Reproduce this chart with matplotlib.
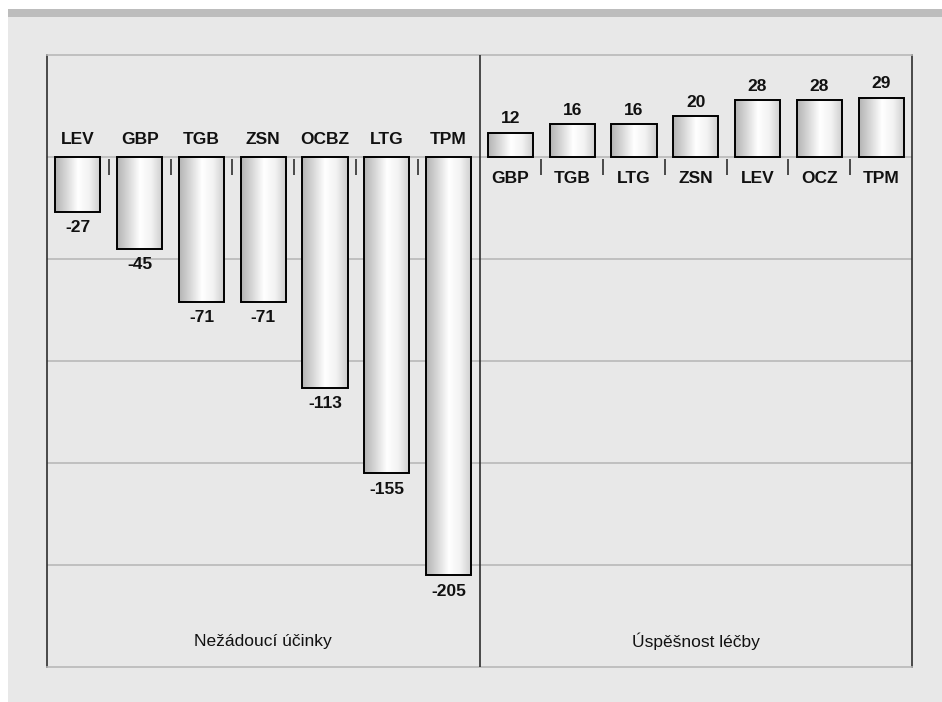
"""Adverse effects vs. treatment success per antiepileptic drug."""

import numpy as np
import matplotlib

matplotlib.use("Agg")
import matplotlib.pyplot as plt
from matplotlib.colors import LinearSegmentedColormap
from matplotlib.patches import Rectangle

adverse_labels = ["LEV", "GBP", "TGB", "ZSN", "OCBZ", "LTG", "TPM"]
adverse_values = [-27, -45, -71, -71, -113, -155, -205]
success_labels = ["GBP", "TGB", "LTG", "ZSN", "LEV", "OCZ", "TPM"]
success_values = [12, 16, 16, 20, 28, 28, 29]
group_titles = ["Nežádoucí účinky", "Úspěšnost léčby"]

BG = "#e8e8e8"
GRID = "#b9b9b9"
DARK = "#2e2e2e"

plt.rcParams["font.family"] = ["Liberation Sans Narrow", "Liberation Sans", "DejaVu Sans"]

W, H = 942, 702
fig = plt.figure(figsize=(W / 100, H / 100), dpi=100, facecolor="white")
fig.patches.append(Rectangle((8 / W, 0), 1, (H - 17) / H, transform=fig.transFigure,
                             facecolor=BG, edgecolor="none", zorder=-10))
fig.patches.append(Rectangle((8 / W, (H - 17) / H), 1, 8 / H, transform=fig.transFigure,
                             facecolor="#bdbdbd", edgecolor="none", zorder=-10))

ax = fig.add_axes([47 / W, 35 / H, (912 - 47) / W, (667 - 55) / H])
ax.set_facecolor(BG)

n = len(adverse_labels)
x_left = np.arange(n) + 0.5
x_right = np.arange(n) + n + 0.5
width = 0.73

shade = LinearSegmentedColormap.from_list(
    "shade", ["#b3b3b3", "#d8d8d8", "#ffffff", "#f2f2f2", "#cccccc"])
grad = np.linspace(0, 1, 256).reshape(1, -1)

bars = list(ax.bar(x_left, adverse_values, width, facecolor="none",
                   edgecolor="black", linewidth=1.4, zorder=4))
bars += list(ax.bar(x_right, success_values, width, facecolor="none",
                    edgecolor="black", linewidth=1.4, zorder=4))
for bar in bars:
    x0, y0 = bar.get_x(), bar.get_y()
    w, h = bar.get_width(), bar.get_height()
    ax.imshow(grad, cmap=shade, aspect="auto", zorder=3,
              extent=(x0, x0 + w, min(y0, y0 + h), max(y0, y0 + h)))

label_kw = dict(ha="center", va="center", fontsize=12.5, fontweight="bold", color="#111111")
for x, name, value in zip(x_left, adverse_labels, adverse_values):
    ax.text(x, 8.5, name, **label_kw)
    ax.text(x, value - 7.8, str(value), **label_kw)
for x, name, value in zip(x_right, success_labels, success_values):
    ax.text(x, -10.3, name, **label_kw)
    ax.text(x, value + 6.8, str(value), **label_kw)

ax.text(n / 2, -237.5, group_titles[0], ha="center", va="center", fontsize=12.5, color="#111111")
ax.text(n + n / 2, -237.5, group_titles[1], ha="center", va="center", fontsize=12.5, color="#111111")

# gridlines and separators
for y in [0, -50, -100, -150, -200]:
    ax.axhline(y, color=GRID, linewidth=1.2, zorder=1)
ax.axvline(n, color=DARK, linewidth=1.2, zorder=5)
bounds = [b for b in range(1, 2 * n) if b != n]
ax.vlines(bounds, -8.8, -1, color=DARK, linewidth=1.2, zorder=5)

ax.set_xlim(0, 2 * n)
ax.set_ylim(-250, 50)
ax.set_xticks([])
ax.set_yticks([])
for side in ["left", "right"]:
    ax.spines[side].set_color(DARK)
    ax.spines[side].set_linewidth(1.2)
for side in ["top", "bottom"]:
    ax.spines[side].set_color(GRID)
    ax.spines[side].set_linewidth(1.2)

fig.savefig("out.png", dpi=100, facecolor=fig.get_facecolor())
